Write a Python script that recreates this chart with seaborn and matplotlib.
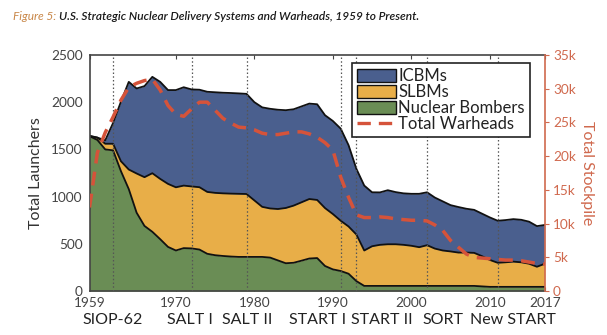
import numpy as np
import pandas as pd
import matplotlib
matplotlib.use("Agg")
import matplotlib.pyplot as plt
import matplotlib.transforms as mtransforms
from matplotlib.patches import Patch
from matplotlib.lines import Line2D
import seaborn as sns

# ---------------- data ----------------
years = list(range(1959, 2018))

# stack boundaries (launchers)
bombers = [1640, 1600, 1500, 1490, 1270, 1080, 830, 690, 628, 550,
           468, 430, 455, 452, 440, 395, 380, 372, 366, 362,
           362, 362, 362, 355, 325, 295, 300, 322, 345, 350,
           266, 230, 213, 184, 106, 55, 55, 55, 55, 55,
           55, 55, 55, 55, 55, 55, 55, 55, 55, 55,
           50, 45, 45, 45, 45, 45, 45, 45, 45]
bombers_plus_slbms = [1640, 1625, 1560, 1560, 1375, 1287, 1245, 1206, 1248, 1188,
                      1135, 1099, 1117, 1108, 1100, 1050, 1040, 1035, 1032, 1030,
                      1028, 960, 892, 875, 869, 880, 905, 940, 975, 965,
                      879, 816, 745, 684, 599, 430, 475, 490, 496, 496,
                      490, 480, 465, 486, 450, 430, 420, 408, 408, 405,
                      370, 330, 300, 305, 312, 305, 290, 258, 290]
total_launchers = [1645, 1625, 1596, 1780, 2005, 2215, 2145, 2170, 2268, 2215,
                   2128, 2128, 2158, 2135, 2132, 2110, 2105, 2100, 2097, 2093,
                   2088, 2000, 1945, 1930, 1920, 1915, 1925, 1955, 1985, 1978,
                   1862, 1801, 1720, 1545, 1294, 1117, 1046, 1045, 1068, 1048,
                   1035, 1030, 1030, 1046, 990, 950, 910, 890, 872, 860,
                   820, 780, 745, 752, 762, 755, 735, 688, 700]

total_warheads = [12400, 20500, 23500, 25800, 28300, 30200, 30800, 31200, 31400, 29800,
                  27500, 26200, 25900, 27000, 28000, 28000, 26800, 25600, 24900, 24300,
                  24200, 23900, 23400, 23200, 23200, 23400, 23600, 23600, 23300, 22800,
                  22000, 20900, 16900, 13900, 11300, 10900, 10900, 11000, 10900, 10700,
                  10600, 10500, 10500, 10400, 9800, 9000, 7500, 6500, 5500, 5000,
                  4900, 4800, 4700, 4600, 4600, 4500, 4300, 4100, 4000]

treaty_names = ["SIOP-62", "SALT I", "SALT II", "START I", "START II", "SORT", "New START"]
treaty_years = [1962, 1972, 1979, 1991, 1993, 2002, 2011]
treaty_label_x = [1962.0, 1971.8, 1979.1, 1988.0, 1996.3, 2004.0, 2012.9]

xtick_years = [1959, 1970, 1980, 1990, 2000, 2010, 2017]
left_ticks = [0, 500, 1000, 1500, 2000, 2500]
right_ticks = [0, 5000, 10000, 15000, 20000, 25000, 30000, 35000]
right_tick_labels = ["0", "5k", "10k", "15k", "20k", "25k", "30k", "35k"]

series_labels = ["ICBMs", "SLBMs", "Nuclear Bombers", "Total Warheads"]

df = pd.DataFrame({"year": years, "bombers": bombers,
                   "bs": bombers_plus_slbms, "total": total_launchers,
                   "warheads": total_warheads})

# ---------------- style ----------------
sns.set_style("ticks")
plt.rcParams["font.family"] = ["Lato", "DejaVu Sans"]

c_blue = "#4a5f8e"
c_yellow = "#e8ae48"
c_green = "#6a8d55"
c_red = "#d5533a"
c_orange_axis = "#d0694e"
c_text = "#333333"

fig = plt.figure(figsize=(6.07, 3.35), dpi=100)
ax = fig.add_axes([0.1475, 0.131, 0.750, 0.705])

ax.fill_between(df["year"], 0, df["bombers"], color=c_green, lw=0, zorder=1)
ax.fill_between(df["year"], df["bombers"], df["bs"], color=c_yellow, lw=0, zorder=1)
ax.fill_between(df["year"], df["bs"], df["total"], color=c_blue, lw=0, zorder=1)
for col in ["bombers", "bs", "total"]:
    sns.lineplot(data=df, x="year", y=col, ax=ax, color="#111111", lw=1.3, zorder=2)

for ty in treaty_years:
    ax.axvline(ty, color="#555555", lw=0.9, ls=(0, (1.2, 1.8)), zorder=3)

ax.set_xlim(1959, 2017)
ax.set_ylim(0, 2500)
ax.set_xticks(xtick_years)
ax.set_xticklabels([str(y) for y in xtick_years])
ax.set_yticks(left_ticks)
ax.set_xlabel("")
ax.set_ylabel("Total Launchers", fontsize=11.5, color=c_text, labelpad=6)
ax.tick_params(axis="x", direction="in", top=True, length=3, pad=4,
               labelsize=9.8, labelcolor="#444444", color="#444444")
ax.tick_params(axis="y", direction="in", length=0, pad=5,
               labelsize=9.8, labelcolor="#444444")
for s in ["left", "top", "bottom"]:
    ax.spines[s].set_color("#444444")
    ax.spines[s].set_linewidth(1.2)
ax.spines["right"].set_visible(False)

trans = mtransforms.blended_transform_factory(ax.transData, ax.transAxes)
for name, x in zip(treaty_names, treaty_label_x):
    ax.text(x, -0.123, name, transform=trans, ha="center", va="center",
            fontsize=11.5, color="#222222", clip_on=False)

# ---------------- warheads on twin axis ----------------
ax2 = ax.twinx()
sns.lineplot(data=df, x="year", y="warheads", ax=ax2, color=c_red, lw=2.5,
             linestyle=(0, (4, 2.4)), zorder=4)
ax2.set_ylim(0, 35000)
ax2.set_xlim(1959, 2017)
ax2.set_yticks(right_ticks)
ax2.set_yticklabels(right_tick_labels)
ax2.set_ylabel("Total Stockpile", rotation=270, fontsize=11.5,
               color=c_orange_axis, labelpad=13)
ax2.tick_params(axis="y", direction="out", length=3, pad=3, labelsize=9.8,
                labelcolor=c_orange_axis, color=c_orange_axis)
ax2.spines["right"].set_color(c_orange_axis)
ax2.spines["right"].set_linewidth(1.2)
for s in ["left", "top", "bottom"]:
    ax2.spines[s].set_visible(False)

handles = [Patch(facecolor=c_blue, edgecolor="#111111", lw=1.0),
           Patch(facecolor=c_yellow, edgecolor="#111111", lw=1.0),
           Patch(facecolor=c_green, edgecolor="#111111", lw=1.0),
           Line2D([0], [0], color=c_red, lw=2.4, ls=(0, (4, 2.4)))]
leg = ax2.legend(handles, series_labels, loc="upper right",
                 bbox_to_anchor=(0.967, 0.966), borderaxespad=0,
                 fontsize=12, frameon=True, fancybox=False, framealpha=1,
                 edgecolor="#222222", handlelength=2.3, handleheight=0.8,
                 handletextpad=0.15, labelspacing=0.0, borderpad=0.3)
leg.get_frame().set_linewidth(1.2)
for t in leg.get_texts():
    t.set_color("#222222")

# ---------------- title ----------------
t1 = fig.text(0.021, 0.952, "Figure 5:", fontsize=8.6, style="italic",
              color="#c9884a", va="center", ha="left")
fig.canvas.draw()
bb = t1.get_window_extent(renderer=fig.canvas.get_renderer())
x_next = (bb.x1 + 3) / fig.bbox.width
fig.text(x_next, 0.952, "U.S. Strategic Nuclear Delivery Systems and Warheads, 1959 to Present.",
         fontsize=8.6, style="italic", fontweight="semibold", color="#1a1a1a",
         va="center", ha="left")

fig.savefig("out.png", dpi=100)
